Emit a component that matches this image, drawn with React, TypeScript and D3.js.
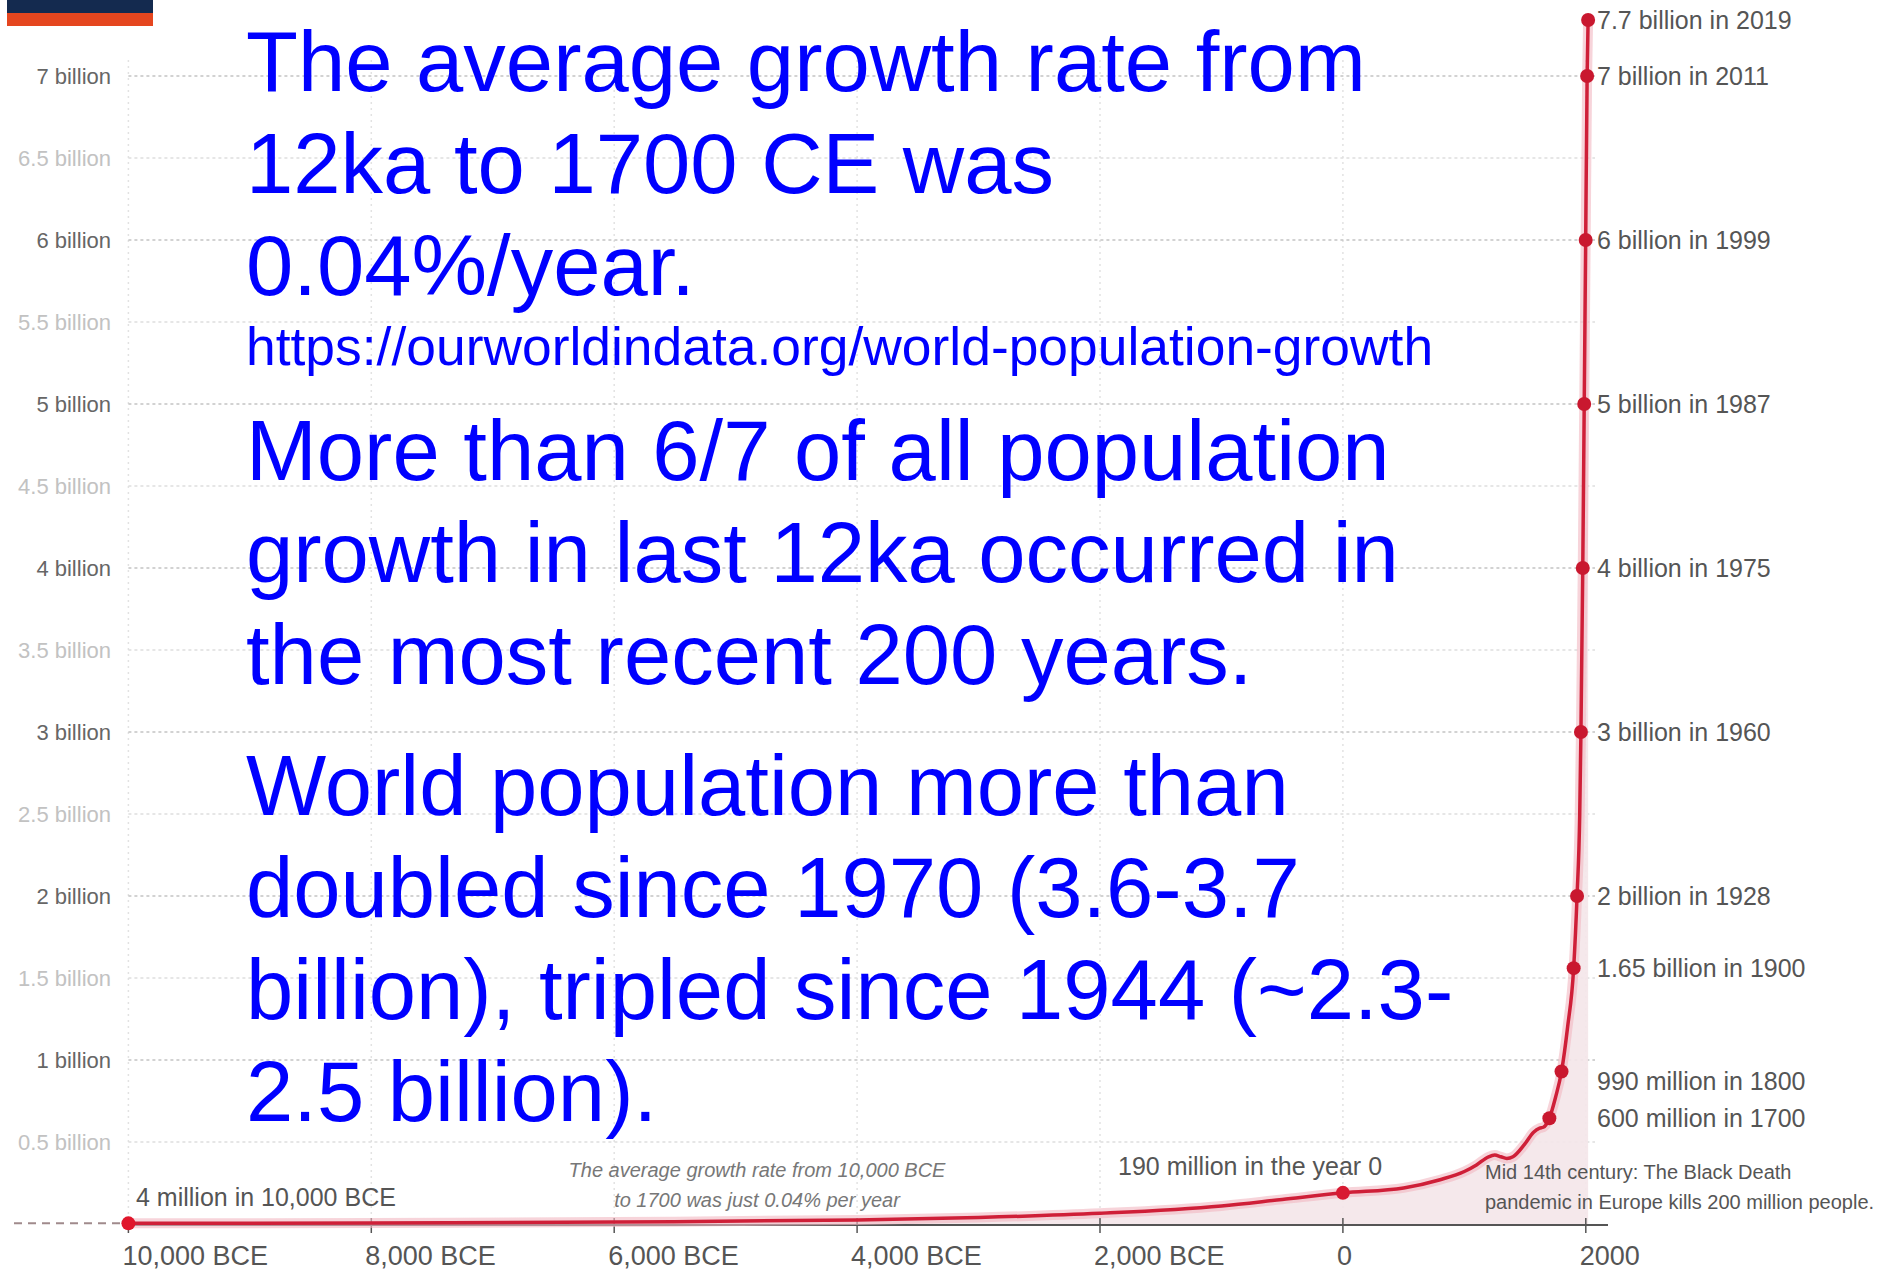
import React from "react";
import * as d3 from "d3";

// ---- data ----
const years = [-10000, -8000, -6000, -4000, -3000, -2000, -1000, -500, 0, 500, 800, 1000, 1100, 1200, 1250, 1300, 1350, 1400, 1500, 1570, 1620, 1650, 1700, 1750, 1800, 1850, 1900, 1928, 1950, 1960, 1975, 1987, 1999, 2011, 2019];
const populationBillions = [0.004, 0.006, 0.012, 0.025, 0.04, 0.065, 0.11, 0.15, 0.19, 0.22, 0.27, 0.32, 0.36, 0.41, 0.42, 0.41, 0.4, 0.41, 0.49, 0.56, 0.585, 0.59, 0.645, 0.77, 0.93, 1.2, 1.56, 2.0, 2.5, 3.0, 4.0, 5.0, 6.0, 7.0, 7.7];

const milestoneYears = [1700, 1800, 1900, 1928, 1960, 1975, 1987, 1999, 2011, 2019];
const milestoneValues = [0.645, 0.93, 1.56, 2.0, 3.0, 4.0, 5.0, 6.0, 7.0, 7.7];
const milestoneLabels = ["600 million in 1700", "990 million in 1800", "1.65 billion in 1900", "2 billion in 1928", "3 billion in 1960", "4 billion in 1975", "5 billion in 1987", "6 billion in 1999", "7 billion in 2011", "7.7 billion in 2019"];

const startYear = -10000;
const startValue = 0.004;
const startLabel = "4 million in 10,000 BCE";
const yearZero = 0;
const yearZeroValue = 0.19;
const yearZeroLabel = "190 million in the year 0";

const yTicks = [0.5, 1, 1.5, 2, 2.5, 3, 3.5, 4, 4.5, 5, 5.5, 6, 6.5, 7];
const yTickLabels = ["0.5 billion", "1 billion", "1.5 billion", "2 billion", "2.5 billion", "3 billion", "3.5 billion", "4 billion", "4.5 billion", "5 billion", "5.5 billion", "6 billion", "6.5 billion", "7 billion"];

const xTicks = [-10000, -8000, -6000, -4000, -2000, 0, 2000];
const xTickLabels = ["10,000 BCE", "8,000 BCE", "6,000 BCE", "4,000 BCE", "2,000 BCE", "0", "2000"];

const noteLines = ["The average growth rate from 10,000 BCE", "to 1700 was just  0.04% per year"];
const blackDeathLines = ["Mid 14th century: The Black Death", "pandemic in Europe kills 200 million people."];

const blueGroup1 = ["The average growth rate from", "12ka to 1700 CE was", "0.04%/year."];
const blueUrl = "https://ourworldindata.org/world-population-growth";
const blueGroup2 = ["More than 6/7 of all population", "growth in last 12ka occurred in", "the most recent 200 years."];
const blueGroup3 = ["World population more than", "doubled since 1970 (3.6-3.7", "billion), tripled since 1944 (~2.3-", "2.5 billion)."];

// ---- layout ----
const W = 1885;
const H = 1271;
const FONT = "'Liberation Sans', Arial, Helvetica, sans-serif";
const labelDy: Record<number, number> = { 1800: 10 };

export default function App() {
  const x = d3.scaleLinear().domain([-10000, 2000]).range([128.4, 1585.8]);
  const y = d3.scaleLinear().domain([0, 7, 7.7]).range([1224, 76, 20]);

  const pts: [number, number][] = years.map((yr, i) => [yr, populationBillions[i]]);
  const line = d3.line<[number, number]>().x(d => x(d[0])).y(d => y(d[1])).curve(d3.curveMonotoneX);
  const area = d3.area<[number, number]>().x(d => x(d[0])).y0(y(0)).y1(d => y(d[1])).curve(d3.curveMonotoneX);

  const gridRight = 1595;
  const red = "#cf1f38";

  return (
    <svg width={W} height={H} style={{ position: "absolute", left: 0, top: 0, background: "#fff" }} fontFamily={FONT}>
      {/* logo */}
      <rect x={7} y={0} width={146} height={13} fill="#142a4f" />
      <rect x={7} y={13} width={146} height={13} fill="#e5461f" />

      {/* vertical gridlines */}
      {xTicks.map(t => (
        <line key={"vg" + t} x1={x(t)} x2={x(t)} y1={60} y2={y(0)} stroke="#e2e2e2" strokeWidth={1.5} strokeDasharray="2,4" />
      ))}
      {/* horizontal gridlines */}
      {yTicks.map((t, i) => {
        const major = Number.isInteger(t);
        return (
          <g key={"hg" + t}>
            <line x1={x(-10000)} x2={gridRight} y1={y(t)} y2={y(t)} stroke={major ? "#c4c4c4" : "#dedede"} strokeWidth={1.5} strokeDasharray="3,3" />
            <text x={111} y={y(t) + 8} textAnchor="end" fontSize={22} fill={major ? "#666" : "#c2c2c2"}>{yTickLabels[i]}</text>
          </g>
        );
      })}

      {/* area */}
      <path d={area(pts) || ""} fill="#f4e6e9" opacity={0.9} />

      {/* axis */}
      <line x1={x(-10000)} x2={1608} y1={y(0) + 1} y2={y(0) + 1} stroke="#555" strokeWidth={2} />
      {xTicks.map((t, i) => (
        <g key={"xt" + t}>
          <line x1={x(t)} x2={x(t)} y1={y(0) - 6} y2={y(0) + 9} stroke="#555" strokeWidth={1.5} />
          <text x={x(t) - 6} y={1265} fontSize={27} fill="#555">{xTickLabels[i]}</text>
        </g>
      ))}

      {/* pre-history dashed line */}
      <line x1={14} x2={x(startYear)} y1={y(startValue)} y2={y(startValue)} stroke="#a08a8c" strokeWidth={2} strokeDasharray="8,6" />

      {/* population line */}
      <path d={line(pts) || ""} fill="none" stroke="#f2b8c1" strokeWidth={10} opacity={0.6} />
      <path d={line(pts) || ""} fill="none" stroke={red} strokeWidth={3.5} />

      {/* start and year 0 */}
      <circle cx={x(startYear)} cy={y(startValue)} r={7} fill="#e0162b" />
      <text x={136} y={1206} fontSize={25} fill="#555">{startLabel}</text>
      <circle cx={x(yearZero)} cy={y(yearZeroValue)} r={7} fill="#d81a32" />
      <text x={1118} y={1175} fontSize={25} fill="#555">{yearZeroLabel}</text>

      {/* milestones */}
      {milestoneYears.map((yr, i) => (
        <g key={"m" + yr}>
          <circle cx={x(yr)} cy={y(milestoneValues[i])} r={7} fill="#c9182f" />
          <text x={1597} y={y(milestoneValues[i]) + 9 + (labelDy[yr] || 0)} fontSize={25} fill="#555">{milestoneLabels[i]}</text>
        </g>
      ))}

      {/* notes */}
      {noteLines.map((s, i) => (
        <text key={"n" + i} x={757} y={1177 + i * 30} fontSize={20} fontStyle="italic" fill="#777" textAnchor="middle">{s}</text>
      ))}
      {blackDeathLines.map((s, i) => (
        <text key={"b" + i} x={1485} y={1179 + i * 30} fontSize={20} fill="#555">{s}</text>
      ))}

      {/* blue overlay text */}
      <g fill="#0000ff" fontSize={85}>
        {blueGroup1.map((s, i) => (
          <text key={"g1" + i} x={246} y={91 + i * 102}>{s}</text>
        ))}
        <text x={246} y={365} fontSize={53.4}>{blueUrl}</text>
        {blueGroup2.map((s, i) => (
          <text key={"g2" + i} x={246} y={480 + i * 102}>{s}</text>
        ))}
        {blueGroup3.map((s, i) => (
          <text key={"g3" + i} x={246} y={815 + i * 102}>{s}</text>
        ))}
      </g>
    </svg>
  );
}
